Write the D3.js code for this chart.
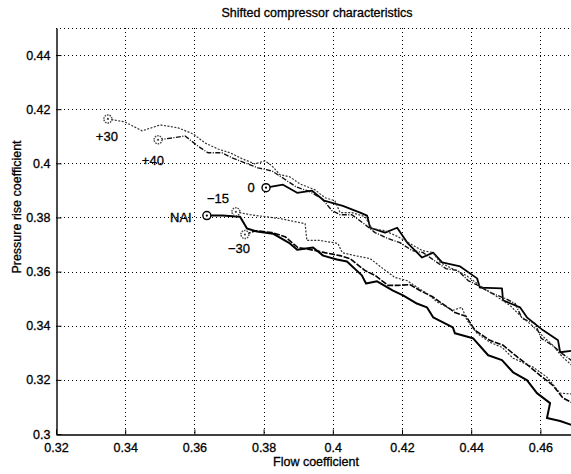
<!DOCTYPE html>
<html lang="en">
  <head>
    <meta charset="UTF-8" />
    <title>Shifted compressor characteristics</title>
    <script src="https://d3js.org/d3.v7.min.js"></script>
    <style>
      body {
        margin: 0;
        background: #fff;
      }
      text {
        font-family: "Liberation Sans", Arial, sans-serif;
        fill: #000;
        stroke: #000;
        stroke-width: 0.3px;
      }
    </style>
  </head>
  <body>
    <div id="chart"></div>
    <script>
      // axis ticks
      const xTicks = [0.32, 0.34, 0.36, 0.38, 0.4, 0.42, 0.44, 0.46];
      const yTicks = [0.3, 0.32, 0.34, 0.36, 0.38, 0.4, 0.42, 0.44];

      // series, [flow coefficient, pressure rise coefficient]
      const plus30 = [
        [0.335, 0.4164], [0.3399, 0.4153], [0.3449, 0.412], [0.3501, 0.4142],
        [0.3553, 0.4131], [0.3596, 0.4109], [0.3631, 0.4075], [0.3668, 0.4053],
        [0.3703, 0.4039], [0.3738, 0.4017], [0.3775, 0.3998], [0.3804, 0.4009],
        [0.3824, 0.3991], [0.3847, 0.3958], [0.3876, 0.395], [0.3905, 0.3924],
        [0.3949, 0.3902], [0.3977, 0.3873], [0.4006, 0.3862], [0.4021, 0.3818],
        [0.4055, 0.3818], [0.4093, 0.3803], [0.4113, 0.3759], [0.4151, 0.3751],
        [0.4188, 0.3729], [0.4223, 0.3704], [0.4258, 0.3678], [0.429, 0.367],
        [0.431, 0.3634], [0.4345, 0.3611], [0.4385, 0.3586], [0.4425, 0.3549],
        [0.4469, 0.3512], [0.4512, 0.3475], [0.4541, 0.3438], [0.4576, 0.3401],
        [0.4613, 0.3354], [0.4636, 0.3328], [0.4662, 0.3287], [0.47, 0.3243]
      ];
      const plus40 = [
        [0.3495, 0.4087], [0.3538, 0.4094], [0.3573, 0.4101], [0.361, 0.4064],
        [0.3639, 0.4039], [0.368, 0.4039], [0.3709, 0.402], [0.3746, 0.4002],
        [0.3784, 0.3983], [0.3824, 0.3972], [0.3859, 0.3943], [0.3894, 0.3913],
        [0.3934, 0.3895], [0.3969, 0.3869], [0.3998, 0.3825], [0.4021, 0.381],
        [0.4055, 0.381], [0.4093, 0.3774], [0.4122, 0.3744], [0.416, 0.3722],
        [0.4194, 0.3707], [0.4229, 0.3678], [0.4261, 0.367], [0.4301, 0.3634],
        [0.4327, 0.3611], [0.4362, 0.3604], [0.4391, 0.3567], [0.442, 0.3549],
        [0.4454, 0.3523], [0.4498, 0.3501], [0.4527, 0.3482], [0.4547, 0.3427],
        [0.4584, 0.3409], [0.4602, 0.3354], [0.4634, 0.3328], [0.4662, 0.3298],
        [0.47, 0.3262]
      ];
      const zero = [
        [0.3807, 0.391], [0.3856, 0.3921], [0.3897, 0.3891], [0.394, 0.3899],
        [0.3975, 0.3862], [0.4029, 0.3843], [0.4079, 0.3818], [0.4099, 0.3807],
        [0.4108, 0.3762], [0.4151, 0.3744], [0.4186, 0.3762], [0.4217, 0.3704],
        [0.4258, 0.3652], [0.429, 0.367], [0.4316, 0.3634], [0.4368, 0.3619],
        [0.4417, 0.3575], [0.4425, 0.3541], [0.4489, 0.3538], [0.4492, 0.3494],
        [0.4541, 0.3468], [0.4561, 0.3431], [0.4608, 0.3383], [0.4651, 0.3346],
        [0.4657, 0.3302], [0.47, 0.3309]
      ];
      const minus15 = [
        [0.372, 0.3821], [0.3761, 0.381], [0.3804, 0.3803], [0.3847, 0.3796],
        [0.392, 0.3777], [0.3925, 0.3715], [0.3963, 0.3715], [0.4015, 0.3704],
        [0.4027, 0.367], [0.4064, 0.3659], [0.4108, 0.3648], [0.4145, 0.3611],
        [0.418, 0.3578], [0.4214, 0.3567], [0.4272, 0.3519], [0.4304, 0.3486],
        [0.4347, 0.3457], [0.4373, 0.3468], [0.4388, 0.342], [0.4417, 0.3372],
        [0.4454, 0.3339], [0.4489, 0.332], [0.4521, 0.328], [0.4579, 0.3247],
        [0.4619, 0.321], [0.4657, 0.3151], [0.47, 0.3147]
      ];
      const minus30 = [
        [0.3746, 0.3737], [0.3778, 0.3751], [0.3824, 0.3744], [0.3862, 0.3729],
        [0.3899, 0.3689], [0.3949, 0.3678], [0.3977, 0.367], [0.4021, 0.3659],
        [0.405, 0.3648], [0.4093, 0.3604], [0.4122, 0.3586], [0.416, 0.3549],
        [0.4188, 0.3549], [0.4223, 0.3552], [0.4252, 0.353], [0.4287, 0.3508],
        [0.4324, 0.3475], [0.4353, 0.3449], [0.4385, 0.3435], [0.4411, 0.3383],
        [0.4454, 0.3346], [0.4492, 0.3328], [0.4527, 0.3291], [0.4564, 0.3254],
        [0.4599, 0.3217], [0.4636, 0.318], [0.4665, 0.3133], [0.47, 0.311]
      ];
      const nai = [
        [0.3636, 0.3807], [0.368, 0.3807], [0.3732, 0.3803], [0.3752, 0.3759],
        [0.3781, 0.3748], [0.3827, 0.374], [0.3876, 0.3704], [0.3897, 0.3681],
        [0.3943, 0.3689], [0.3972, 0.3659], [0.4012, 0.3645], [0.4041, 0.3637],
        [0.4084, 0.3586], [0.4096, 0.3556], [0.4128, 0.3564], [0.4174, 0.353],
        [0.4203, 0.3512], [0.4243, 0.3482], [0.4272, 0.3468], [0.429, 0.3431],
        [0.4347, 0.3394], [0.4353, 0.3372], [0.4405, 0.3354], [0.4449, 0.3291],
        [0.4489, 0.3273], [0.4521, 0.3228], [0.4561, 0.3199], [0.459, 0.3151],
        [0.4628, 0.3114], [0.4619, 0.3059], [0.4657, 0.3048], [0.47, 0.3029]
      ];

      // curve labels and where they sit
      const labelNames = ["+30", "+40", "0", "\u221215", "NAI", "\u221230"];
      const labelPos = [
        [0.3347, 0.4098], [0.348, 0.4009], [0.3764, 0.391],
        [0.3668, 0.3869], [0.3561, 0.3799], [0.3729, 0.3685]
      ];

      const width = 571;
      const height = 474;
      const mLeft = 56, mTop = 28, mRight = 575, mBottom = 434;

      const x = d3.scaleLinear().domain([0.32, 0.47]).range([mLeft, mRight]);
      const y = d3.scaleLinear().domain([0.3, 0.45]).range([mBottom, mTop]);

      const svg = d3
        .select("#chart")
        .append("svg")
        .attr("width", width)
        .attr("height", height);

      svg.append("defs")
        .append("clipPath")
        .attr("id", "plot-clip")
        .append("rect")
        .attr("x", mLeft)
        .attr("y", mTop - 6)
        .attr("width", mRight - mLeft)
        .attr("height", mBottom - mTop + 6);

      // dotted grid
      const grid = svg.append("g")
        .attr("stroke", "#000")
        .attr("stroke-width", 1)
        .attr("stroke-dasharray", "1,3");
      grid.selectAll(".gx")
        .data(xTicks.slice(1))
        .enter()
        .append("line")
        .attr("x1", (d) => Math.round(x(d)) + 0.5)
        .attr("x2", (d) => Math.round(x(d)) + 0.5)
        .attr("y1", mTop)
        .attr("y2", mBottom);
      grid.selectAll(".gy")
        .data(yTicks.slice(1).concat([0.45]))
        .enter()
        .append("line")
        .attr("y1", (d) => Math.round(y(d)) + 0.5)
        .attr("y2", (d) => Math.round(y(d)) + 0.5)
        .attr("x1", mLeft)
        .attr("x2", mRight);

      // axes, ticks pointing inward like matlab
      const xAxis = svg.append("g")
        .attr("transform", `translate(0,${mBottom + 0.5})`)
        .call(d3.axisBottom(x).tickValues(xTicks).tickSizeInner(-5).tickSizeOuter(0)
          .tickPadding(9).tickFormat(d3.format("")));
      const yAxis = svg.append("g")
        .attr("transform", `translate(${mLeft + 0.5},0)`)
        .call(d3.axisLeft(y).tickValues(yTicks).tickSizeInner(-5).tickSizeOuter(0)
          .tickPadding(9).tickFormat(d3.format("")));
      [xAxis, yAxis].forEach((g) => {
        g.selectAll("text")
          .attr("font-size", 12.5)
          .attr("font-family", "Liberation Sans, Arial, sans-serif");
        g.select(".domain").attr("stroke", "#000").attr("stroke-width", 1.4);
      });
      yAxis.selectAll("text").attr("dx", 3);

      const line = d3.line()
        .x((d) => x(d[0]))
        .y((d) => y(d[1]));

      const series = [
        { data: nai, color: "#000", w: 2, dash: null, mark: "#000", mdash: null },
        { data: zero, color: "#000", w: 1.8, dash: null, mark: "#000", mdash: null },
        { data: plus40, color: "#111", w: 1.4, dash: "5,1.5,1,1.5", mark: "#444", mdash: "1.5,1" },
        { data: minus30, color: "#000", w: 1.6, dash: "6,1.5", mark: "#444", mdash: "1.5,1" },
        { data: plus30, color: "#333", w: 1.2, dash: "2,1.5", mark: "#444", mdash: "1.5,1" },
        { data: minus15, color: "#333", w: 1.2, dash: "2,1.5", mark: "#444", mdash: "1.5,1" }
      ];

      const plot = svg.append("g").attr("clip-path", "url(#plot-clip)");
      series.forEach((s) => {
        plot.append("path")
          .datum(s.data)
          .attr("fill", "none")
          .attr("stroke", s.color)
          .attr("stroke-width", s.w)
          .attr("stroke-dasharray", s.dash)
          .attr("stroke-linejoin", "round")
          .attr("d", line);
        // start marker: circle with a dot
        const p = s.data[0];
        plot.append("circle")
          .attr("cx", x(p[0]))
          .attr("cy", y(p[1]))
          .attr("r", 4)
          .attr("fill", "#fff")
          .attr("stroke", s.mark)
          .attr("stroke-width", 1.4)
          .attr("stroke-dasharray", s.mdash);
        plot.append("circle")
          .attr("cx", x(p[0]))
          .attr("cy", y(p[1]))
          .attr("r", 1.1)
          .attr("fill", s.mark);
      });

      svg.selectAll(".curve-label")
        .data(labelNames)
        .enter()
        .append("text")
        .attr("class", "curve-label")
        .attr("x", (d, i) => x(labelPos[i][0]))
        .attr("y", (d, i) => y(labelPos[i][1]))
        .attr("text-anchor", "middle")
        .attr("dominant-baseline", "central")
        .attr("font-size", 13)
        .text((d) => d);

      svg.append("text")
        .attr("x", 317)
        .attr("y", 13)
        .attr("text-anchor", "middle")
        .attr("dominant-baseline", "central")
        .attr("font-size", 12.5)
        .text("Shifted compressor characteristics");

      svg.append("text")
        .attr("x", 316)
        .attr("y", 462)
        .attr("text-anchor", "middle")
        .attr("dominant-baseline", "central")
        .attr("font-size", 12.5)
        .text("Flow coefficient");

      svg.append("text")
        .attr("transform", "translate(17,207) rotate(-90)")
        .attr("text-anchor", "middle")
        .attr("dominant-baseline", "central")
        .attr("font-size", 12.5)
        .text("Pressure rise coefficient");
    </script>
  </body>
</html>
